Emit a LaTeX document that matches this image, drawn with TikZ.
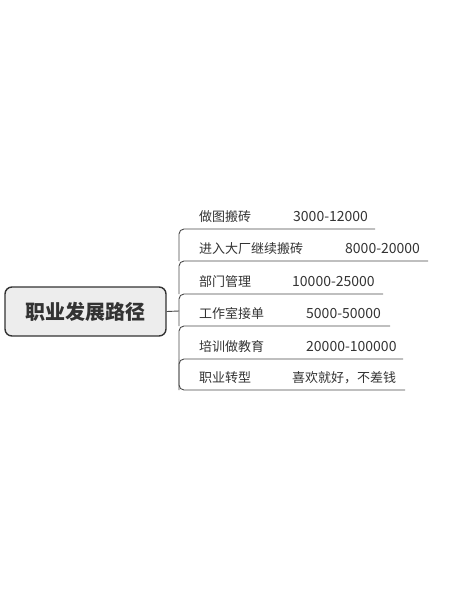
\documentclass[tikz,border=0pt]{standalone}
\usepackage{fontspec}
\newfontfamily\cjk{Noto Sans CJK SC}
\usepackage{tikz}
\definecolor{inkgray}{HTML}{333333}
\definecolor{linegray}{HTML}{4A4A4A}
\tikzset{
	root/.style={
		shape = rectangle,
		rounded corners = 7pt,
		draw = inkgray,
		line width = 1.4pt,
		fill = gray!14,
		minimum width = 161pt,
		minimum height = 49pt,
		font = \cjk\bfseries\fontsize{20}{20}\selectfont,
		text = inkgray
	},
	label/.style={
		anchor = base west,
		inner sep = 0pt,
		font = \cjk\fontsize{13}{13}\selectfont,
		text = inkgray
	},
	value/.style={
		label,
		font = \cjk\fontsize{14}{14}\selectfont
	},
	limb/.style={
		draw = linegray,
		line width = 0.9pt,
		rounded corners = 5pt
	},
}

\begin{document}
\begin{tikzpicture}[x=1pt, y=-1pt]
    \useasboundingbox (0,0) rectangle (449,600);
    \node[root] (root) at (85.5,311.5) {职业发展路径};
    \coordinate (hub) at (179,311);
    \draw[limb] (root.east) -- (hub);
    \foreach \i/\y/\e/\name/\vx/\val in {
      1/229/375/做图搬砖/293/3000-12000,
      2/261/428/进入大厂继续搬砖/345/8000-20000,
      3/294/383/部门管理/292/10000-25000,
      4/326/390/工作室接单/306/5000-50000,
      5/359/403/培训做教育/306/20000-100000,
      6/390/405/职业转型/292/{\fontsize{13}{13}\selectfont 喜欢就好，不差钱}}{
      \coordinate (s\i) at (179,\y);
      \coordinate (e\i) at (\e,\y);
      \node[label] (n\i) at (199,\y-8) {\name};
      \node[value] (v\i) at (\vx,\y-8) {\val};
    }
    \foreach \i [evaluate=\i as \j using int(\i+1)] in {1,...,5}{
      \draw[limb] (e\i) -- (s\i) -- (s\j);
    }
    \draw[limb] (s5) -- (s6) -- (e6);
  \end{tikzpicture}
\end{document}
